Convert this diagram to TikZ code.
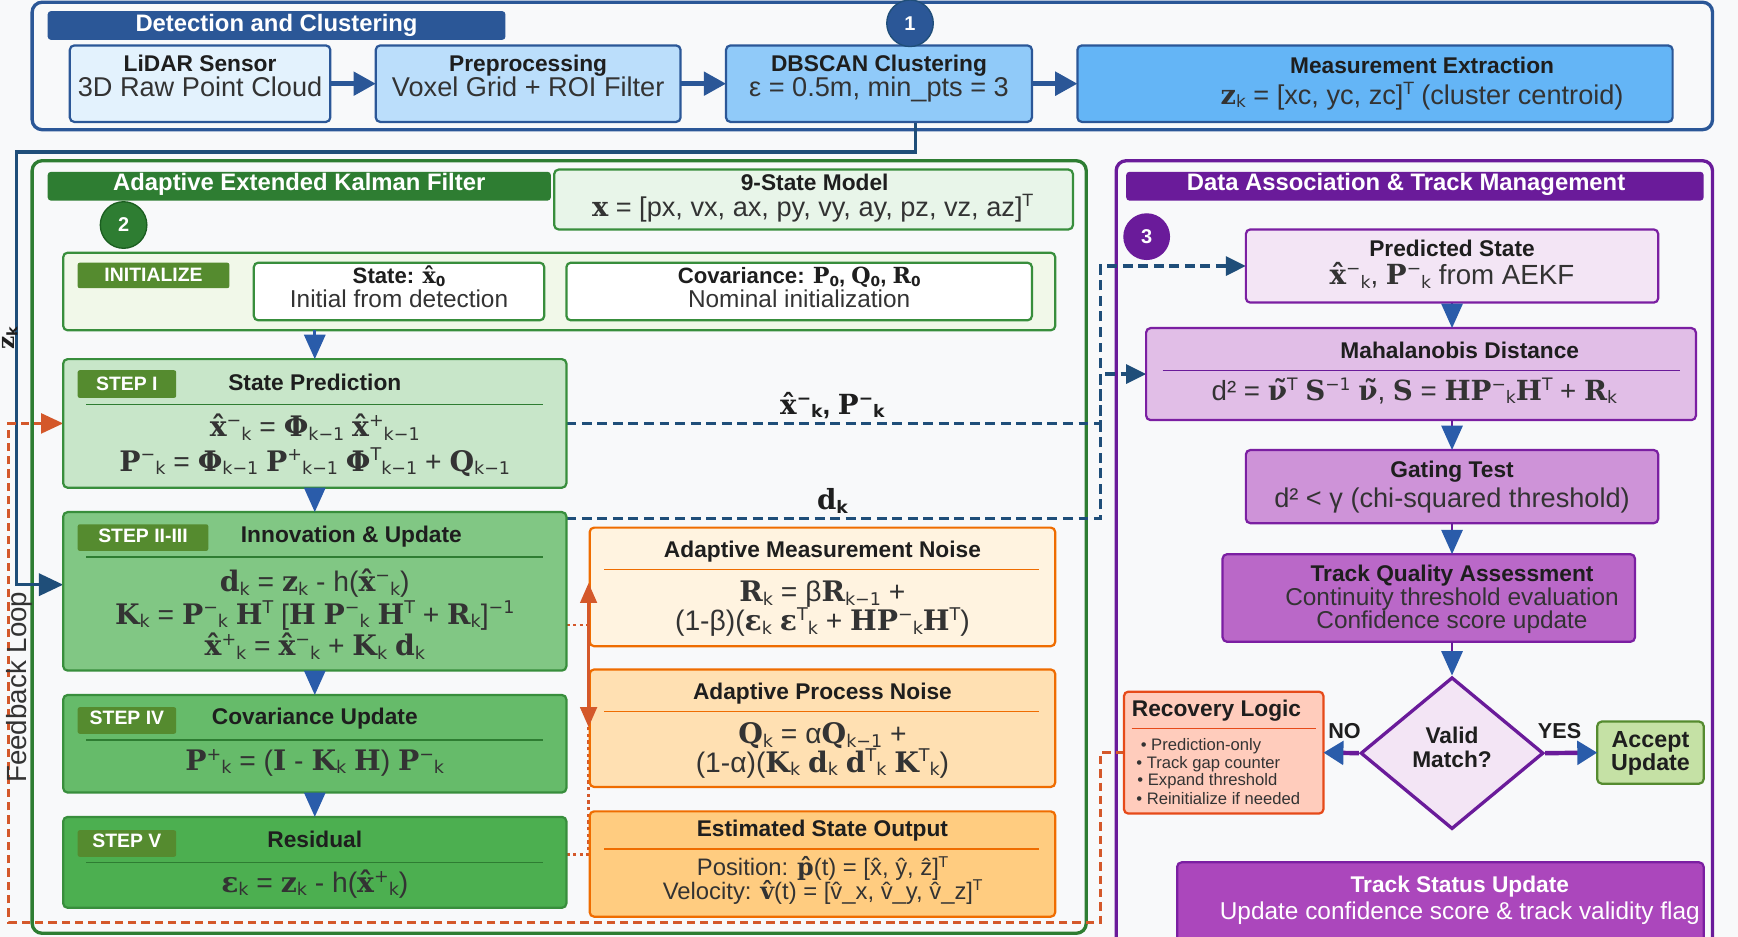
\documentclass[tikz,border=0pt]{standalone}
\usepackage{fontspec}
\usepackage{graphicx}
\setmainfont{Liberation Sans}
\newfontfamily\dvs{DejaVu Sans}
\newfontfamily\bser{DejaVu Serif}
\usetikzlibrary{arrows.meta,shapes.geometric}
\pgfdeclarelayer{back}
\pgfdeclarelayer{mid}
\pgfsetlayers{back,mid,main}
\definecolor{bg}{HTML}{F8F9FA}
\definecolor{navy}{HTML}{2B5797}
\definecolor{dnavy}{HTML}{1F4E79}
\definecolor{ablue}{HTML}{2A5CAA}
\definecolor{bA}{HTML}{E3F2FD}
\definecolor{bB}{HTML}{BBDEFB}
\definecolor{bC}{HTML}{90CAF9}
\definecolor{bD}{HTML}{64B5F6}
\definecolor{gH}{HTML}{2E7D32}
\definecolor{gD}{HTML}{1B5E20}
\definecolor{gB}{HTML}{388E3C}
\definecolor{gT}{HTML}{558B2F}
\definecolor{gI}{HTML}{F1F8E9}
\definecolor{gN}{HTML}{E8F5E9}
\definecolor{gOne}{HTML}{C8E6C9}
\definecolor{gThree}{HTML}{81C784}
\definecolor{gFour}{HTML}{66BB6A}
\definecolor{gFive}{HTML}{4CAF50}
\definecolor{gA}{HTML}{C5E1A5}
\definecolor{oA}{HTML}{FFF3E0}
\definecolor{oB}{HTML}{FFE0B2}
\definecolor{oC}{HTML}{FFCC80}
\definecolor{oE}{HTML}{EF6C00}
\definecolor{fbo}{HTML}{D4582A}
\definecolor{rF}{HTML}{FFCCBC}
\definecolor{rE}{HTML}{E64A19}
\definecolor{pH}{HTML}{6A1B9A}
\definecolor{pE}{HTML}{7B1FA2}
\definecolor{pZero}{HTML}{F3E5F5}
\definecolor{pOne}{HTML}{E1BEE7}
\definecolor{pTwo}{HTML}{CE93D8}
\definecolor{pThree}{HTML}{BA68C8}
\definecolor{pFour}{HTML}{AB47BC}
\definecolor{tx}{HTML}{1E1E1E}
\definecolor{tg}{HTML}{333333}
\newcommand\B[1]{{\bser\bfseries #1}}
\newcommand\sbk[1]{\raisebox{-0.12em}{\scalebox{0.62}{\dvs #1}}}
\newcommand\spk[1]{\raisebox{0.36em}{\scalebox{0.62}{\dvs #1}}}
\newcommand\xh{\B{x̂}}
\newcommand\bx[6][]{\node[#1,anchor=north west,minimum width={#4-#2},minimum height={#5-#3}] (#6) at (#2,#3) {};}
\begin{document}
\begin{tikzpicture}[x=1pt,y=-1pt,
  box/.style={draw,rounded corners=4pt,line width=2pt,inner sep=0pt,outer sep=0pt},
  cont/.style={draw,rounded corners=9pt,line width=3pt,inner sep=0pt,outer sep=0pt,fill=bg},
  headbar/.style={rounded corners=3pt,inner sep=0pt,outer sep=0pt},
  tagbox/.style={fill=gT,rounded corners=2pt,inner sep=0pt,outer sep=0pt},
  fH/.style={font=\fontsize{21.5}{24}\selectfont\bfseries,text=white,inner sep=0pt,anchor=base},
  fT/.style={font=\fontsize{20.5}{23}\selectfont\bfseries,text=tx,inner sep=0pt,anchor=base},
  fL/.style={font=\fontsize{24.5}{27}\selectfont,text=tg,inner sep=0pt,anchor=base},
  fM/.style={font=\fontsize{22}{25}\selectfont,text=tg,inner sep=0pt,anchor=base},
  fE/.style={font=\fontsize{25.5}{28}\selectfont,text=tg,inner sep=0pt,anchor=base},
  fG/.style={font=\fontsize{17.5}{20}\selectfont\bfseries,text=white,inner sep=0pt,anchor=base},
  fB/.style={font=\fontsize{15}{17}\selectfont,text=tg,inner sep=0pt,anchor=base west},
  num/.style={circle,inner sep=0pt,minimum size=42pt,line width=1.2pt,font=\fontsize{18}{20}\selectfont\bfseries,text=white},
  barrow/.style={draw=navy,line width=4pt,-{Triangle[length=20pt,width=21pt]}},
  varrow/.style={draw=ablue,line width=2.5pt,-{Triangle[length=22pt,width=19pt]}},
  parrow/.style={draw=pH,line width=2.5pt,-{Triangle[length=22pt,width=19pt,color=ablue]}},
  harrow/.style={draw=pH,line width=4pt,-{Triangle[length=18pt,width=21pt,color=ablue]}},
  dline/.style={draw=dnavy,line width=3pt,dash pattern=on 9pt off 5pt},
  fbline/.style={draw=fbo,line width=2.5pt,dash pattern=on 7.5pt off 4.5pt},
  dotl/.style={draw=fbo,line width=2pt,dash pattern=on 3pt off 3pt},
  zline/.style={draw=dnavy,line width=3pt},
  sepG/.style={draw=gH,line width=1.2pt},
  sepO/.style={draw=oE,line width=1.2pt},
  sepP/.style={draw=pH,line width=1.2pt},
  sepR/.style={draw=rE,line width=1.2pt},
]
\useasboundingbox (0,0) rectangle (1568,845);
\begin{pgfonlayer}{back}
\fill[bg] (0,0) rectangle (1568,845);
\bx[cont,draw=navy]{29}{2}{1545}{117}{topc}
\bx[cont,draw=gH]{29}{145}{980}{842}{aekf}
\bx[cont,draw=pH]{1007}{145}{1545}{880}{dac}
\end{pgfonlayer}

\coordinate (zc) at (15,137);
\coordinate (jx) at (993,400);
\coordinate (fbA) at (993,832);
\coordinate (fbB) at (8,832);
\coordinate (rqA) at (531,526);
\coordinate (rqB) at (531,656);

% ---------------- top row
\bx[headbar,fill=navy]{43}{10}{456}{36}{hdet}
\node[fH] (hdet-t) at (249.5,28) {Detection and Clustering};
\bx[box,draw=navy,fill=bA]{63}{41}{298}{110}{lidar}
\bx[box,draw=navy,fill=bB]{339}{41}{614}{110}{pre}
\bx[box,draw=navy,fill=bC]{655}{41}{931}{110}{db}
\bx[box,draw=navy,fill=bD]{972}{41}{1509}{110}{meas}
\node[fT] (lidar-a) at (180.5,64.5) {LiDAR Sensor};
\node[fL] (lidar-b) at (180.5,87.5) {3D Raw Point Cloud};
\node[fT] (pre-a) at (476.5,64.5) {Preprocessing};
\node[fL] (pre-b) at (476.5,87.5) {Voxel Grid + ROI Filter};
\node[fT] (db-a) at (793,64.5) {DBSCAN Clustering};
\node[fL] (db-b) at (793,87.5) {ε = 0.5m, min\_pts = 3};
\node[fT] (meas-a) at (1283,66) {Measurement Extraction};
\node[fL] (meas-b) at (1283,94) {\B{z}\sbk{k} = [xc, yc, zc]\spk{T} (cluster centroid)};
\node[num,fill=navy,draw=dnavy] (c1) at (821,21) {1};
\draw[barrow] (lidar.east) -- (pre.west);
\draw[barrow] (pre.east) -- (db.west);
\draw[barrow] (db.east) -- (meas.west);

% ---------------- AEKF
\bx[headbar,fill=gH]{43}{155}{497}{181}{haekf}
\node[fH] (haekf-t) at (270,172) {Adaptive Extended Kalman Filter};
\node[num,fill=gH,draw=gD] (c2) at (111.5,203) {2};
\bx[box,draw=gB,fill=gN]{500}{153}{968}{207}{nine}
\node[fT] (nine-a) at (735,172) {9-State Model};
\node[fL] (nine-b) at (733,195) {\B{x} = [px, vx, ax, py, vy, ay, pz, vz, az]\spk{T}};

\bx[box,draw=gB,fill=gI]{57}{228}{952}{298}{init}
\bx[tagbox]{70}{237}{207}{260}{tinit}
\node[fG] (tinit-t) at (138.5,254) {INITIALIZE};
\bx[box,draw=gB,fill=white]{229}{237}{491}{289}{stz}
\node[fT,font=\fontsize{20}{23}\selectfont\bfseries] (stz-a) at (360,256) {State: \xh\sbk{0}};
\node[fM] (stz-b) at (360,277.5) {Initial from detection};
\bx[box,draw=gB,fill=white]{511}{237}{931}{289}{covz}
\node[fT,font=\fontsize{20}{23}\selectfont\bfseries] (covz-a) at (721,256) {Covariance: \B{P}\sbk{0}, \B{Q}\sbk{0}, \B{R}\sbk{0}};
\node[fM] (covz-b) at (721,277.5) {Nominal initialization};

\bx[box,draw=gB,fill=gOne]{57}{324}{511}{440}{s1}
\bx[box,draw=gB,fill=gThree]{57}{462}{511}{605}{s23}
\bx[box,draw=gB,fill=gFour]{57}{627}{511}{715}{s4}
\bx[box,draw=gB,fill=gFive]{57}{737}{511}{819}{s5}

\node[font=\fontsize{25}{27}\selectfont\bfseries,text=tx,inner sep=0pt,anchor=base] (lab1) at (751,374) {\xh\spk{−}\sbk{k}, \B{P}\spk{−}\sbk{k}};
\node[font=\fontsize{25}{27}\selectfont\bfseries,text=tx,inner sep=0pt,anchor=base] (lab2) at (751,460) {\B{d}\sbk{k}};
\node[rotate=90,font=\fontsize{21}{23}\selectfont\bfseries,text=tx,inner sep=0pt] (zk) at (9,305) {\B{z}\sbk{k}};
\node[rotate=90,font=\fontsize{25}{27}\selectfont,text=tg,inner sep=0pt] (fbt) at (17,620) {Feedback Loop};

% step I
\bx[tagbox]{70}{334}{159}{359}{ts1}
\node[fG] (ts1-t) at (114.5,352) {STEP I};
\node[fT] (s1-a) at (284,352) {State Prediction};
\draw[sepG] (78,365) -- (490,365);
\node[fE] (s1-b) at (284,394) {\xh\spk{−}\sbk{k} = \B{Φ}\sbk{k−1} \xh\spk{+}\sbk{k−1}};
\node[fE] (s1-c) at (284,425) {\B{P}\spk{−}\sbk{k} = \B{Φ}\sbk{k−1} \B{P}\spk{+}\sbk{k−1} \B{Φ}\spk{T}\sbk{k−1} + \B{Q}\sbk{k−1}};
% step II-III
\bx[tagbox]{70}{473}{188}{497}{ts23}
\node[fG] (ts23-t) at (129,489) {STEP II-III};
\node[fT] (s23-a) at (317,489) {Innovation \& Update};
\draw[sepG] (78,502.5) -- (490,502.5);
\node[fE] (s23-b) at (284,534) {\B{d}\sbk{k} = \B{z}\sbk{k} - h(\xh\spk{−}\sbk{k})};
\node[fE] (s23-c) at (284,563) {\B{K}\sbk{k} = \B{P}\spk{−}\sbk{k} \B{H}\spk{T} [\B{H} \B{P}\spk{−}\sbk{k} \B{H}\spk{T} + \B{R}\sbk{k}]\spk{−1}};
\node[fE] (s23-d) at (284,591.5) {\xh\spk{+}\sbk{k} = \xh\spk{−}\sbk{k} + \B{K}\sbk{k} \B{d}\sbk{k}};
% step IV
\bx[tagbox]{70}{638}{159}{662}{ts4}
\node[fG] (ts4-t) at (114.5,654) {STEP IV};
\node[fT] (s4-a) at (284,654) {Covariance Update};
\draw[sepG] (78,667.5) -- (490,667.5);
\node[fE] (s4-b) at (284,695) {\B{P}\spk{+}\sbk{k} = (\B{I} - \B{K}\sbk{k} \B{H}) \B{P}\spk{−}\sbk{k}};
% step V
\bx[tagbox]{70}{749}{159}{773}{ts5}
\node[fG] (ts5-t) at (114.5,765) {STEP V};
\node[fT] (s5-a) at (284,765) {Residual};
\draw[sepG] (78,778) -- (490,778);
\node[fE] (s5-b) at (284,805) {\B{ε}\sbk{k} = \B{z}\sbk{k} - h(\xh\spk{+}\sbk{k})};

\draw[varrow] (s1.north |- init.south) -- (s1.north);
\draw[varrow] (s1.south) -- (s23.north);
\draw[varrow] (s23.south) -- (s4.north);
\draw[varrow] (s4.south) -- (s5.north);

% orange boxes
\bx[box,draw=oE,fill=oA]{532}{476}{952}{583}{rbox}
\node[fT] (rbox-a) at (742,503) {Adaptive Measurement Noise};
\draw[sepO] (545,514) -- (937,514);
\node[fE] (rbox-b) at (742,543) {\B{R}\sbk{k} = β\B{R}\sbk{k−1} +};
\node[fE] (rbox-c) at (742,569) {(1-β)(\B{ε}\sbk{k} \B{ε}\spk{T}\sbk{k} + \B{HP}\spk{−}\sbk{k}\B{H}\spk{T})};
\bx[box,draw=oE,fill=oB]{532}{604}{952}{710}{qbox}
\node[fT] (qbox-a) at (742,631) {Adaptive Process Noise};
\draw[sepO] (545,642) -- (937,642);
\node[fE] (qbox-b) at (742,671) {\B{Q}\sbk{k} = α\B{Q}\sbk{k−1} +};
\node[fE] (qbox-c) at (742,696.5) {(1-α)(\B{K}\sbk{k} \B{d}\sbk{k} \B{d}\spk{T}\sbk{k} \B{K}\spk{T}\sbk{k})};
\bx[box,draw=oE,fill=oC]{532}{732}{952}{827}{ebox}
\node[fT] (ebox-a) at (742,755) {Estimated State Output};
\draw[sepO] (545,766) -- (937,766);
\node[fM,font=\fontsize{21.5}{24}\selectfont] (ebox-b) at (742,790) {Position: \B{p̂}(t) = [x̂, ŷ, ẑ]\spk{T}};
\node[fM,font=\fontsize{21.5}{24}\selectfont] (ebox-c) at (742,811.5) {Velocity: \B{v̂}(t) = [v̂\_x, v̂\_y, v̂\_z]\spk{T}};
\draw[draw=fbo,line width=2.5pt,{Triangle[length=18pt,width=15pt]}-{Triangle[length=18pt,width=15pt]}] (rqA) -- (rqB);

% ---------------- Data association
\bx[headbar,fill=pH]{1016}{155}{1537}{181}{hdac}
\node[fH] (hdac-t) at (1268.5,172) {Data Association \& Track Management};
\node[num,fill=pH,draw=pH,minimum size=41pt] (c3) at (1034.5,213.5) {3};
\bx[box,draw=pE,fill=pZero]{1124}{207}{1496}{273}{pred}
\node[fT] (pred-a) at (1310,231) {Predicted State};
\node[fE,font=\fontsize{25}{27}\selectfont] (pred-b) at (1310,257) {\xh\spk{−}\sbk{k}, \B{P}\spk{−}\sbk{k} from AEKF};
\bx[box,draw=pE,fill=pOne]{1034}{296}{1530}{379}{maha}
\node[fT] (maha-a) at (1317,323.5) {Mahalanobis Distance};
\draw[sepP] (1049,334.5) -- (1516,334.5);
\node[fE,font=\fontsize{25}{27}\selectfont] (maha-b) at (1276,361) {d² = \B{ν̃}\spk{T} \B{S}\spk{−1} \B{ν̃}, \B{S} = \B{HP}\spk{−}\sbk{k}\B{H}\spk{T} + \B{R}\sbk{k}};
\bx[box,draw=pE,fill=pTwo]{1124}{406}{1496}{472}{gate}
\node[fT] (gate-a) at (1310,431) {Gating Test};
\node[fL] (gate-b) at (1310,458) {d² < γ (chi-squared threshold)};
\bx[box,draw=pE,fill=pThree]{1103}{500}{1475}{579}{tq}
\node[fT] (tq-a) at (1310,525) {Track Quality Assessment};
\node[fM] (tq-b) at (1310,546) {Continuity threshold evaluation};
\node[fM] (tq-c) at (1310,567) {Confidence score update};
\node[diamond,draw=pH,line width=3pt,fill=pZero,minimum width=165pt,minimum height=137pt,inner sep=0pt] (dia) at (1310,679.5) {};
\node[fT] (dia-a) at (1310,671) {Valid};
\node[fT] (dia-b) at (1310,692.5) {Match?};
\bx[box,draw=rE,fill=rF]{1014}{624}{1194}{734}{rec}
\node[fT,anchor=base west] (rec-a) at (1021,646) {Recovery Logic};
\draw[sepR] (1021,657) -- (1187,657);
\node[fB] (rec-b) at (1029,677) {• Prediction-only};
\node[fB] (rec-c) at (1025,693) {• Track gap counter};
\node[fB] (rec-d) at (1026,709) {• Expand threshold};
\node[fB] (rec-e) at (1025,726) {• Reinitialize if needed};
\bx[box,draw=gT,fill=gA]{1441}{651}{1537}{707}{acc}
\node[fT,font=\fontsize{21}{24}\selectfont\bfseries] (acc-a) at (1489,674) {Accept};
\node[fT,font=\fontsize{21}{24}\selectfont\bfseries] (acc-b) at (1489,695) {Update};
\node[fT,font=\fontsize{19.5}{22}\selectfont\bfseries] (no) at (1213,666) {NO};
\node[fT,font=\fontsize{19.5}{22}\selectfont\bfseries] (yes) at (1407,666) {YES};
\bx[box,draw=pE,fill=pFour]{1062}{778}{1537}{880}{tsu}
\node[fT,text=white] (tsu-a) at (1317,805) {Track Status Update};
\node[fM,text=white] (tsu-b) at (1317,830) {Update confidence score \& track validity flag};

\draw[parrow] (pred.south) -- (pred.south |- maha.north);
\draw[parrow] (gate.north |- maha.south) -- (gate.north);
\draw[parrow] (gate.south) -- (gate.south |- tq.north);
\draw[parrow] (dia.north |- tq.south) -- (dia.north);
\draw[harrow] (dia.west) -- (rec.east);
\draw[harrow] (dia.east) -- (acc.west);

% ---------------- long connectors (under boxes)
\begin{pgfonlayer}{mid}
\draw[zline,-{Triangle[length=22pt,width=20pt]}] ([xshift=33pt]db.south) |- (zc) |- ([yshift=6pt]s23.west);
\draw[dotl] ([yshift=-30.5pt]s23.east) -- ++(20,0);
\draw[dotl] ([yshift=7pt]s5.east) -- ++(20,0) -- (rqB);
\draw[dline,-{Triangle[length=18pt,width=17pt]}] (s1.east) -| (jx |- pred.west) -- (pred.west);
\draw[dline,-{Triangle[length=18pt,width=17pt]}] ([yshift=-5.5pt]s23.north east) -| (jx |- maha.west) -- (maha.west);
\draw[fbline,-{Triangle[length=20pt,width=18pt]}] (rec.west) -| (fbA) -- (fbB) |- (s1.west);
\end{pgfonlayer}
\end{tikzpicture}
\end{document}
